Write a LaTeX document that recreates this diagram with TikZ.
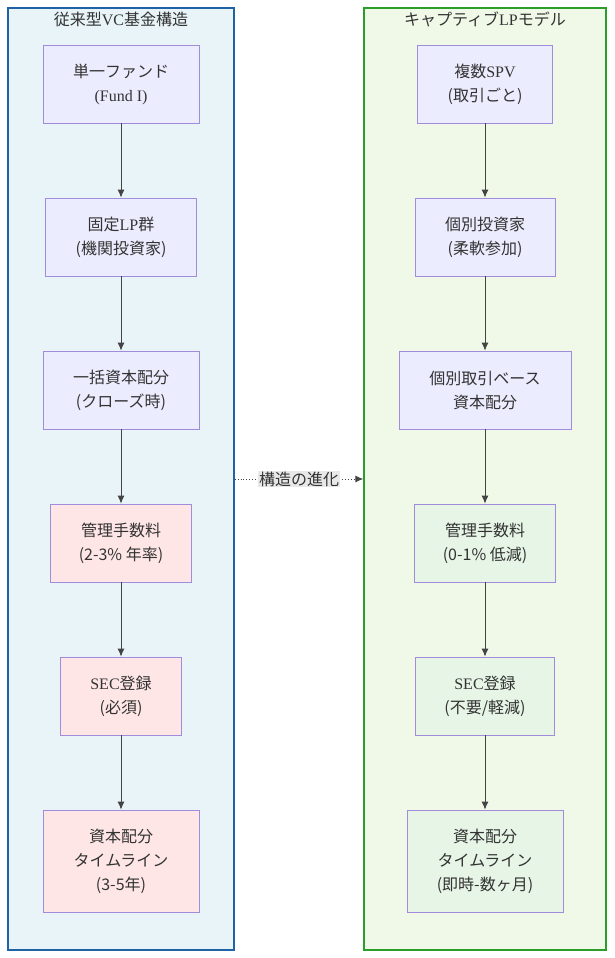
\documentclass[tikz,border=0pt]{standalone}
\usepackage{fontspec}
\setmainfont{Liberation Serif}
\newfontfamily\jpfont{Noto Sans CJK JP}
\usetikzlibrary{arrows.meta}
\definecolor{txtgray}{HTML}{333333}
\definecolor{lineGray}{HTML}{444444}
\definecolor{oldFill}{HTML}{E8F4F8}
\definecolor{oldEdge}{HTML}{1F63A6}
\definecolor{newFill}{HTML}{F0F8E8}
\definecolor{newEdge}{HTML}{2A9D2A}
\definecolor{lavFill}{HTML}{ECECFF}
\definecolor{lavEdge}{HTML}{A08CDB}
\definecolor{pinkFill}{HTML}{FFE6E6}
\definecolor{greenFill}{HTML}{E6F5E6}
\definecolor{labelFill}{HTML}{E8E8E8}
\newcommand{\pJ}[1]{{\jpfont #1}}

\begin{document}
\begin{tikzpicture}[x=1pt,y=-1pt,
  font=\fontsize{16}{24}\selectfont, text=txtgray,
  box/.style={draw=lavEdge, fill=lavFill, line width=0.8pt, align=center, inner sep=0pt},
  pinkbox/.style={box, fill=pinkFill},
  greenbox/.style={box, fill=greenFill},
  group/.style={line width=1.4pt, inner sep=0pt, minimum width=#1, minimum height=942},
  flow/.style={draw=lineGray, line width=0.9pt, -{Latex[length=8pt,width=7pt]}}]
\useasboundingbox (0,0) rectangle (614,958);
% clusters
\node[group=226, draw=oldEdge, fill=oldFill] (oldgrp) at (121,479) {};
\node[group=242, draw=newEdge, fill=newFill] (newgrp) at (485,479) {};
\node (oldtitle) at (121,19) {\pJ{従来型}VC\pJ{基金構造}};
\node (newtitle) at (485,19) {\pJ{キャプティブ}LP\pJ{モデル}};
% left column
\node[box, minimum width=156, minimum height=78] (fund) at (121,84) {\pJ{単一ファンド}\\(Fund I)};
\node[box, minimum width=151, minimum height=78] (fixedlp) at (121,237) {\pJ{固定}LP\pJ{群}\\\pJ{(機関投資家)}};
\node[box, minimum width=156, minimum height=78] (lumpsum) at (121,390) {\pJ{一括資本配分}\\\pJ{(クローズ時)}};
\node[pinkbox, minimum width=141, minimum height=78] (oldfee) at (121,543) {\pJ{管理手数料}\\\pJ{(2-3\% 年率)}};
\node[pinkbox, minimum width=121, minimum height=78] (oldsec) at (121,696) {SEC\pJ{登録}\\\pJ{(必須)}};
\node[pinkbox, minimum width=156, minimum height=102] (oldtime) at (121,861) {\pJ{資本配分}\\\pJ{タイムライン}\\\pJ{(3-5年)}};
% right column
\node[box, minimum width=135, minimum height=78] (spv) at (485,84) {\pJ{複数}SPV\\\pJ{(取引ごと)}};
\node[box, minimum width=140, minimum height=78] (indiv) at (485,237) {\pJ{個別投資家}\\\pJ{(柔軟参加)}};
\node[box, minimum width=172, minimum height=78] (perdeal) at (485,390) {\pJ{個別取引ベース}\\\pJ{資本配分}};
\node[greenbox, minimum width=141, minimum height=78] (newfee) at (485,543) {\pJ{管理手数料}\\\pJ{(0-1\% 低減)}};
\node[greenbox, minimum width=139, minimum height=78] (newsec) at (485,696) {SEC\pJ{登録}\\\pJ{(不要/軽減)}};
\node[greenbox, minimum width=156, minimum height=102] (newtime) at (485,861) {\pJ{資本配分}\\\pJ{タイムライン}\\\pJ{(即時-数ヶ月)}};
% connectors
\draw[flow] (fund) -- (fixedlp);
\draw[flow] (fixedlp) -- (lumpsum);
\draw[flow] (lumpsum) -- (oldfee);
\draw[flow] (oldfee) -- (oldsec);
\draw[flow] (oldsec) -- (oldtime);
\draw[flow] (spv) -- (indiv);
\draw[flow] (indiv) -- (perdeal);
\draw[flow] (perdeal) -- (newfee);
\draw[flow] (newfee) -- (newsec);
\draw[flow] (newsec) -- (newtime);
\draw[flow, dotted] (oldgrp.east) -- node[fill=labelFill, inner sep=1pt] (evolve) {\pJ{構造の進化}} (newgrp.west);
\end{tikzpicture}
\end{document}
